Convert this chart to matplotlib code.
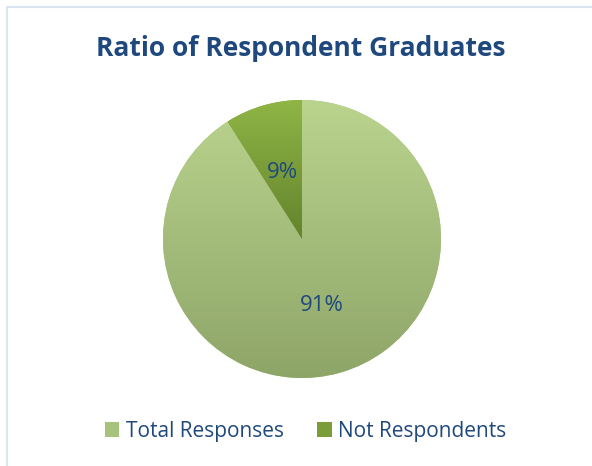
import numpy as np
import matplotlib
matplotlib.use("Agg")
import matplotlib.pyplot as plt
from matplotlib.colors import LinearSegmentedColormap
from matplotlib.patches import Rectangle

# ── data ─────────────────────────────────────────────────────────────────────
labels = ["Total Responses", "Not Respondents"]
shares = [91, 9]

# top / bottom colours of the vertical gradient per slice
grad_top = ["#bad48e", "#8fb545"]
grad_bot = ["#8ea568", "#64832d"]
mid_col = ["#a6c27c", "#7a9d3a"]

TEXT = "#1f497d"
W, H = 592, 466

plt.rcParams["font.family"] = ["Open Sans", "DejaVu Sans"]

fig = plt.figure(figsize=(W / 100, H / 100), dpi=100)

# chart-area border (runs off the right/bottom edge like in the source)
fig.patches.append(Rectangle((6.5 / W, 0 - 0.01), 1.0, 1 - 6.5 / H + 0.01,
                             transform=fig.transFigure, fill=False,
                             edgecolor="#d9e4f1", linewidth=1.5))

# pie axes sized so the disc spans x 163..441, y 100..378 (px)
cx, cy, r = 302, 239, 139
ax = fig.add_axes([(cx - r) / W, (H - cy - r) / H, 2 * r / W, 2 * r / H])
ax.set_xlim(-1, 1)
ax.set_ylim(-1, 1)
ax.axis("off")

wedges, texts, autotexts = ax.pie(
    shares, labels=None, colors=mid_col, startangle=90, counterclock=False,
    autopct="%d%%", pctdistance=0.5, radius=1,
    wedgeprops=dict(linewidth=0),
    textprops=dict(color=TEXT, fontsize=16),
)

# gradient fill, clipped to each wedge
for i, w in enumerate(wedges):
    bb = w.get_path().get_extents(w.get_patch_transform())
    cmap = LinearSegmentedColormap.from_list(f"g{i}", [grad_bot[i], grad_top[i]])
    grad = np.linspace(0, 1, 256).reshape(-1, 1)
    im = ax.imshow(grad, cmap=cmap, origin="lower", aspect="auto",
                   extent=(bb.x0, bb.x1, bb.y0, bb.y1), zorder=w.get_zorder())
    im.set_clip_path(w)
ax.set_xlim(-1, 1)
ax.set_ylim(-1, 1)
for t in autotexts:
    t.set_zorder(5)

fig.text(301 / W, 1 - 49 / H, "Ratio of Respondent Graduates",
         ha="center", va="center", fontsize=19, fontweight="bold", color=TEXT)

leg = fig.legend(wedges, labels, loc="center", ncol=2,
                 bbox_to_anchor=(305.5 / W, 1 - 431 / H), frameon=False,
                 fontsize=15, handlelength=0.7, handleheight=0.7,
                 handletextpad=0.3, columnspacing=1.6)
for t in leg.get_texts():
    t.set_color(TEXT)

fig.savefig("out.png", dpi=100)
